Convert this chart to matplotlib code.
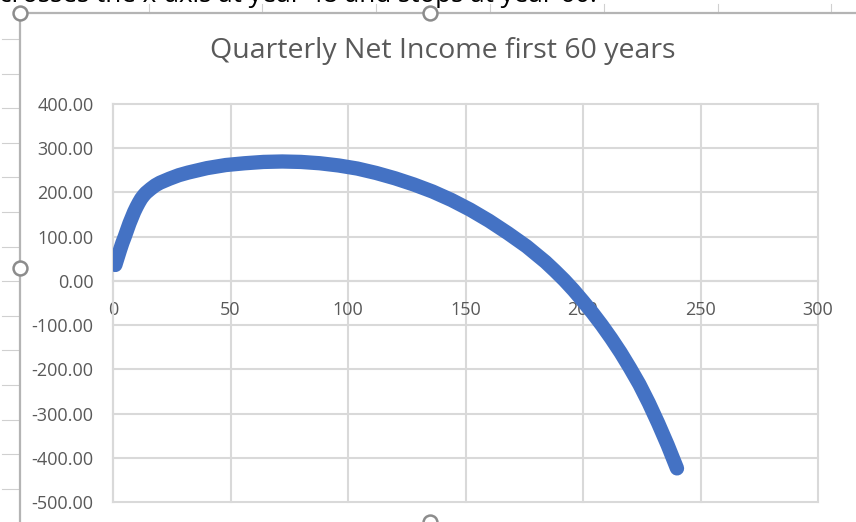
import matplotlib.pyplot as plt
from matplotlib.lines import Line2D

# -------- DATA --------
quarters = [1, 2, 3, 4, 5, 6, 7, 8, 9, 10, 11, 12, 13, 14, 16, 18, 20, 24,
            28, 32, 36, 40, 48, 56, 64, 72, 80, 88, 96, 104, 112, 120, 128,
            136, 144, 152, 160, 168, 176, 184, 188, 192, 196, 200, 204, 208,
            212, 216, 220, 224, 228, 232, 236, 240]
net_income = [36, 53, 70, 86, 100, 115, 130, 143, 156, 167, 177, 186, 193,
              199, 208, 216, 222, 231, 239, 245, 250, 255, 262, 266, 269,
              270, 269, 266, 261, 254, 244, 232, 218, 202, 183, 161, 136,
              108, 78, 43, 23, 2, -21, -46, -72, -100, -130, -162, -197,
              -234, -276, -322, -371, -424]

x_ticks = [0, 50, 100, 150, 200, 250, 300]
y_ticks = [-500, -400, -300, -200, -100, 0, 100, 200, 300, 400]

title = "Quarterly Net Income first 60 years"
note = "crosses the x-axis at year 48 and stops at year 60."

# -------- STYLE --------
BLUE = "#4472C4"
GRID = "#D9D9D9"
TXT = "#595959"
FRAME = "#B4B4B4"
W, H = 856, 522

plt.rcParams['font.family'] = ['Open Sans', 'DejaVu Sans']


def fx(px):
    return px / W


def fy(py):
    return 1 - py / H


fig = plt.figure(figsize=(W / 100, H / 100), dpi=100)

# -------- WORKSHEET BITS AROUND THE CHART --------
# sentence above the chart, cut by the screenshot edge
fig.text(fx(-1), fy(2.5), note, fontsize=18.7, color="black", va="baseline", ha="left")

for k in range(15):
    py = 39 + 34.6 * k
    fig.add_artist(Line2D([fx(2), fx(19)], [fy(py), fy(py)], color="#D0D0D0", lw=0.8))
for k in range(7):
    px = 148.6 + 113.8 * k
    fig.add_artist(Line2D([fx(px), fx(px)], [fy(4), fy(13)], color="#D0D0D0", lw=0.8))

fig.add_artist(Line2D([fx(20), fx(20)], [fy(13), fy(522)], color=FRAME, lw=1.6))
fig.add_artist(Line2D([fx(20), fx(856)], [fy(13), fy(13)], color=FRAME, lw=1.6))

# -------- CHART --------
ax = fig.add_axes([fx(113), fy(502), (818 - 113) / W, (502 - 104) / H])

for xv in x_ticks:
    ax.axvline(xv, color=GRID, lw=1.5, zorder=0, clip_on=False)
for yv in y_ticks:
    ax.axhline(yv, color=GRID, lw=1.5, zorder=0, clip_on=False)

ax.plot(quarters, net_income, color=BLUE, lw=10.3,
        solid_capstyle="round", solid_joinstyle="round", zorder=3)

ax.set_xlim(0, 300)
ax.set_ylim(-500, 400)
ax.set_xticks(x_ticks)
ax.set_yticks(y_ticks)
ax.set_yticklabels([f"{v:.2f}" for v in y_ticks])

for s in ["top", "right"]:
    ax.spines[s].set_visible(False)
ax.spines["bottom"].set_position(("data", 0))
ax.spines["bottom"].set_color(GRID)
ax.spines["bottom"].set_linewidth(1.5)
ax.spines["left"].set_color(GRID)
ax.spines["left"].set_linewidth(1.5)

ax.tick_params(axis="both", length=0, labelcolor=TXT, labelsize=13)
ax.tick_params(axis="x", pad=14.5)
ax.tick_params(axis="y", pad=14)

fig.text(fx(443), fy(58), title, fontsize=20.5, color=TXT, ha="center", va="baseline")

# -------- SELECTION HANDLES --------
for hx, hy in [(20, 13), (430, 13), (20, 268), (430, 522)]:
    fig.add_artist(Line2D([fx(hx)], [fy(hy)], marker="o", markersize=10,
                          markerfacecolor="white", markeredgecolor="#8C8C8C",
                          markeredgewidth=1.8, clip_on=False))

fig.savefig("out.png", dpi=100)
